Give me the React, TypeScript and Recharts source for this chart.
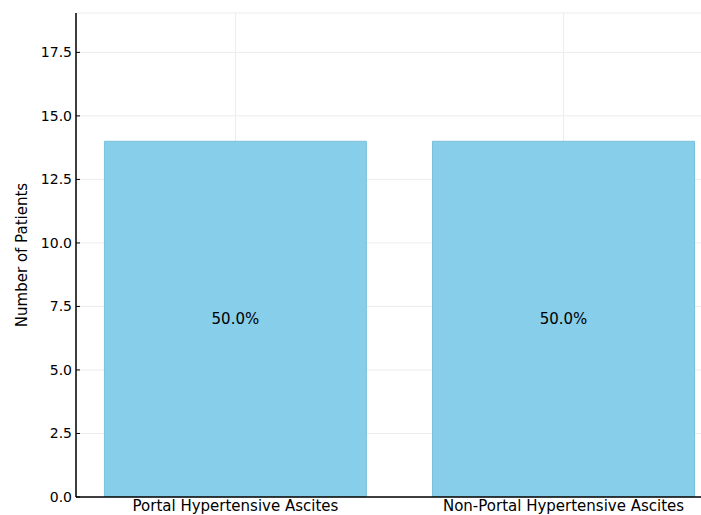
import React from "react";
import { BarChart, Bar, XAxis, YAxis, CartesianGrid, LabelList } from "recharts";

const categories = ["Portal Hypertensive Ascites", "Non-Portal Hypertensive Ascites"];
const patientCounts = [14, 14];
const percentLabels = ["50.0%", "50.0%"];
const yTicks = [0, 2.5, 5, 7.5, 10, 12.5, 15, 17.5];
const xTicks = [0, 1];

const data = categories.map((c, i) => ({
  x: i,
  name: c,
  count: patientCounts[i],
  pct: percentLabels[i],
}));

const FONT = "DejaVu Sans, sans-serif";

export default function App() {
  return (
    <div style={{ position: "absolute", left: 0, top: 0, width: 701, height: 515, overflow: "hidden", background: "#fff" }}>
      <BarChart
        width={723}
        height={515}
        data={data}
        margin={{ top: 13, right: 0, bottom: 0, left: 16 }}
        barSize={262}
      >
        <CartesianGrid stroke="#ececec" strokeWidth={1} />
        <XAxis
          dataKey="x"
          type="number"
          domain={[-0.486, 1.486]}
          ticks={xTicks}
          tickFormatter={(v: number) => categories[v] ?? ""}
          height={18}
          tickSize={0}
          tickMargin={3}
          axisLine={{ stroke: "#000", strokeWidth: 1.5 }}
          tick={{ fill: "#000", fontSize: 15, fontFamily: FONT }}
          allowDataOverflow
        />
        <YAxis
          type="number"
          domain={[0, 19.05]}
          ticks={yTicks}
          tickFormatter={(v: number) => v.toFixed(1)}
          width={60}
          tickSize={-4}
          tickMargin={8}
          axisLine={{ stroke: "#000", strokeWidth: 1.5 }}
          tickLine={{ stroke: "#000" }}
          tick={{ fill: "#000", fontSize: 14, fontFamily: FONT }}
          allowDataOverflow
          label={{
            value: "Number of Patients",
            angle: -90,
            position: "insideLeft",
            offset: 6,
            style: { textAnchor: "middle", fill: "#000", fontSize: 15, fontFamily: FONT },
          }}
        />
        <Bar dataKey="count" fill="#87CEEB" stroke="#7cc0da" strokeWidth={1} isAnimationActive={false}>
          <LabelList
            dataKey="pct"
            position="center"
            style={{ fill: "#000", fontSize: 15, fontFamily: FONT }}
          />
        </Bar>
      </BarChart>
    </div>
  );
}
